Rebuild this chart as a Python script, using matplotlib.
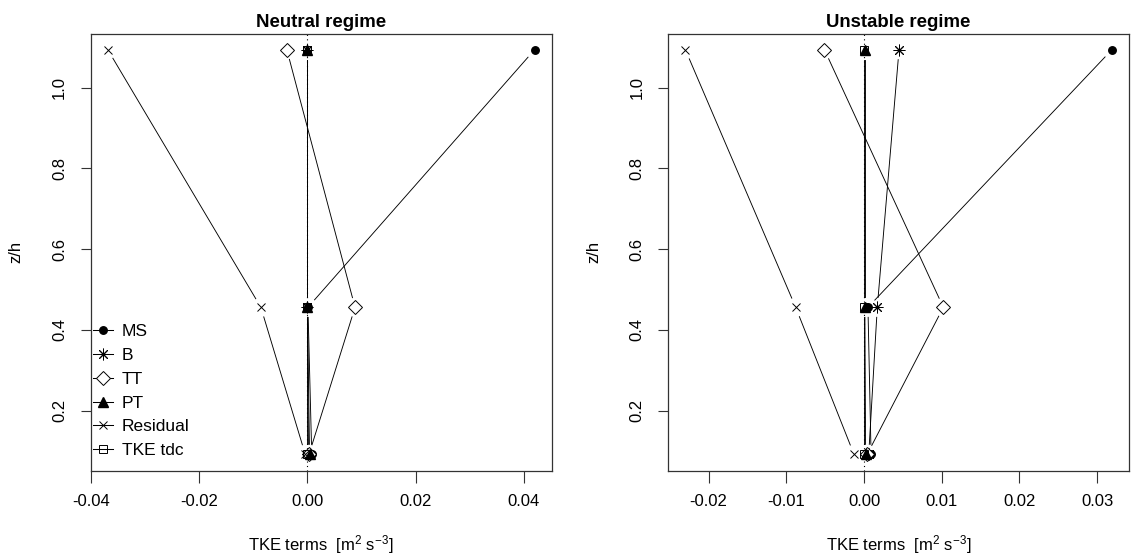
import numpy as np
import matplotlib
matplotlib.use('Agg')
import matplotlib.pyplot as plt
from matplotlib.lines import Line2D

plt.rcParams['font.family'] = ['Liberation Sans', 'DejaVu Sans']
plt.rcParams['mathtext.default'] = 'regular'

# heights (z/h) of the three levels
z = [0.092, 0.456, 1.094]

terms = ['MS', 'B', 'TT', 'PT', 'Residual', 'TKE tdc']

# TKE budget terms [m2 s-3], bottom -> top
neutral_ms = [0.0008, 0.0001, 0.0420]
neutral_b = [0.0002, 0.0000, 0.0000]
neutral_tt = [0.0003, 0.0088, -0.0038]
neutral_pt = [0.0004, 0.0000, 0.0000]
neutral_res = [-0.0004, -0.0086, -0.0369]
neutral_tdc = [0.0000, 0.0000, 0.0000]

unstable_ms = [0.0009, 0.0005, 0.0319]
unstable_b = [0.0006, 0.0017, 0.0045]
unstable_tt = [0.0004, 0.0102, -0.0051]
unstable_pt = [0.0002, 0.0001, 0.0001]
unstable_res = [-0.0013, -0.0088, -0.0230]
unstable_tdc = [0.0000, 0.0000, 0.0000]

neutral = [neutral_ms, neutral_b, neutral_tt, neutral_pt, neutral_res, neutral_tdc]
unstable = [unstable_ms, unstable_b, unstable_tt, unstable_pt, unstable_res, unstable_tdc]

# marker styles, R pch 19, 8, 5, 17, 4, 0
styles = [
    dict(marker='o', ms=5.4, mfc='black', mec='black'),
    dict(marker=(8, 2, 0), ms=8.4, mfc='black', mec='black', mew=0.7),
    dict(marker='D', ms=6.8, mfc='white', mec='black', mew=0.7),
    dict(marker='^', ms=6.5, mfc='black', mec='black'),
    dict(marker='x', ms=6.2, mfc='black', mec='black', mew=0.7),
    dict(marker='s', ms=5.8, mfc='none', mec='black', mew=0.7),
]

W, H = 1133, 559
fig = plt.figure(figsize=(W / 100, H / 100), dpi=100)


def r_lim(vals):
    lo, hi = np.min(vals), np.max(vals)
    r = hi - lo
    return lo - 0.04 * r, hi + 0.04 * r


def type_b(ax, x, y, gap=10):
    # R type="b": line segments with a gap around each point
    pts = ax.transData.transform(np.column_stack([x, y]))
    inv = ax.transData.inverted()
    for p0, p1 in zip(pts[:-1], pts[1:]):
        d = p1 - p0
        L = np.hypot(*d)
        if L <= 2 * gap:
            continue
        u = d / L
        a, b = inv.transform([p0 + gap * u, p1 - gap * u])
        ax.plot([a[0], b[0]], [a[1], b[1]], color='black', lw=0.65)


def panel(left_px, right_px, data, title, xticks, xfmt):
    ax = fig.add_axes([left_px / W, (H - 470.5) / H,
                       (right_px - left_px) / W, 437 / H])
    ax.set_xlim(r_lim(np.concatenate(data)))
    ax.set_ylim(r_lim(z))
    ax.axvline(0, color='black', lw=0.8, linestyle=(0, (1, 3)))
    for vals, st in zip(data, styles):
        type_b(ax, vals, z)
        ax.plot(vals, z, linestyle='none', **st)
    ax.set_xticks(xticks)
    ax.set_xticklabels([xfmt.format(v) for v in xticks])
    ax.set_yticks([0.2, 0.4, 0.6, 0.8, 1.0])
    ax.set_yticklabels(['0.2', '0.4', '0.6', '0.8', '1.0'], rotation=90, va='center')
    ax.tick_params(axis='x', length=8.6, width=0.8, color='#333333', pad=8.5, labelsize=12)
    ax.tick_params(axis='y', length=7.0, width=0.8, color='#333333', pad=10, labelsize=12)
    for s in ax.spines.values():
        s.set_color('#333333')
        s.set_linewidth(0.9)
    ax.set_title(title, fontsize=13.4, fontweight='bold', pad=4.9)
    ax.set_xlabel('TKE terms  [m$^{2}$ s$^{-3}$]', fontsize=12)
    ax.xaxis.set_label_coords(0.5, -0.143)
    ax.set_ylabel('z/h', fontsize=12)
    ax.yaxis.set_label_coords(-0.146, 0.5)
    return ax


ax1 = panel(90.7, 551.7, neutral, 'Neutral regime',
            [-0.04, -0.02, 0.0, 0.02, 0.04], '{:.2f}')
ax2 = panel(668.3, 1129, unstable, 'Unstable regime',
            [-0.02, -0.01, 0.0, 0.01, 0.02, 0.03], '{:.2f}')

handles = [Line2D([], [], color='black', lw=0.75, **st) for st in styles]
ax1.legend(handles, terms, loc='lower left', bbox_to_anchor=(0.005, 0.028),
           frameon=False, fontsize=12.5, handlelength=1.15, handletextpad=0.5,
           labelspacing=0.5, borderpad=0, borderaxespad=0, numpoints=1)

fig.savefig('out.png', dpi=100)
